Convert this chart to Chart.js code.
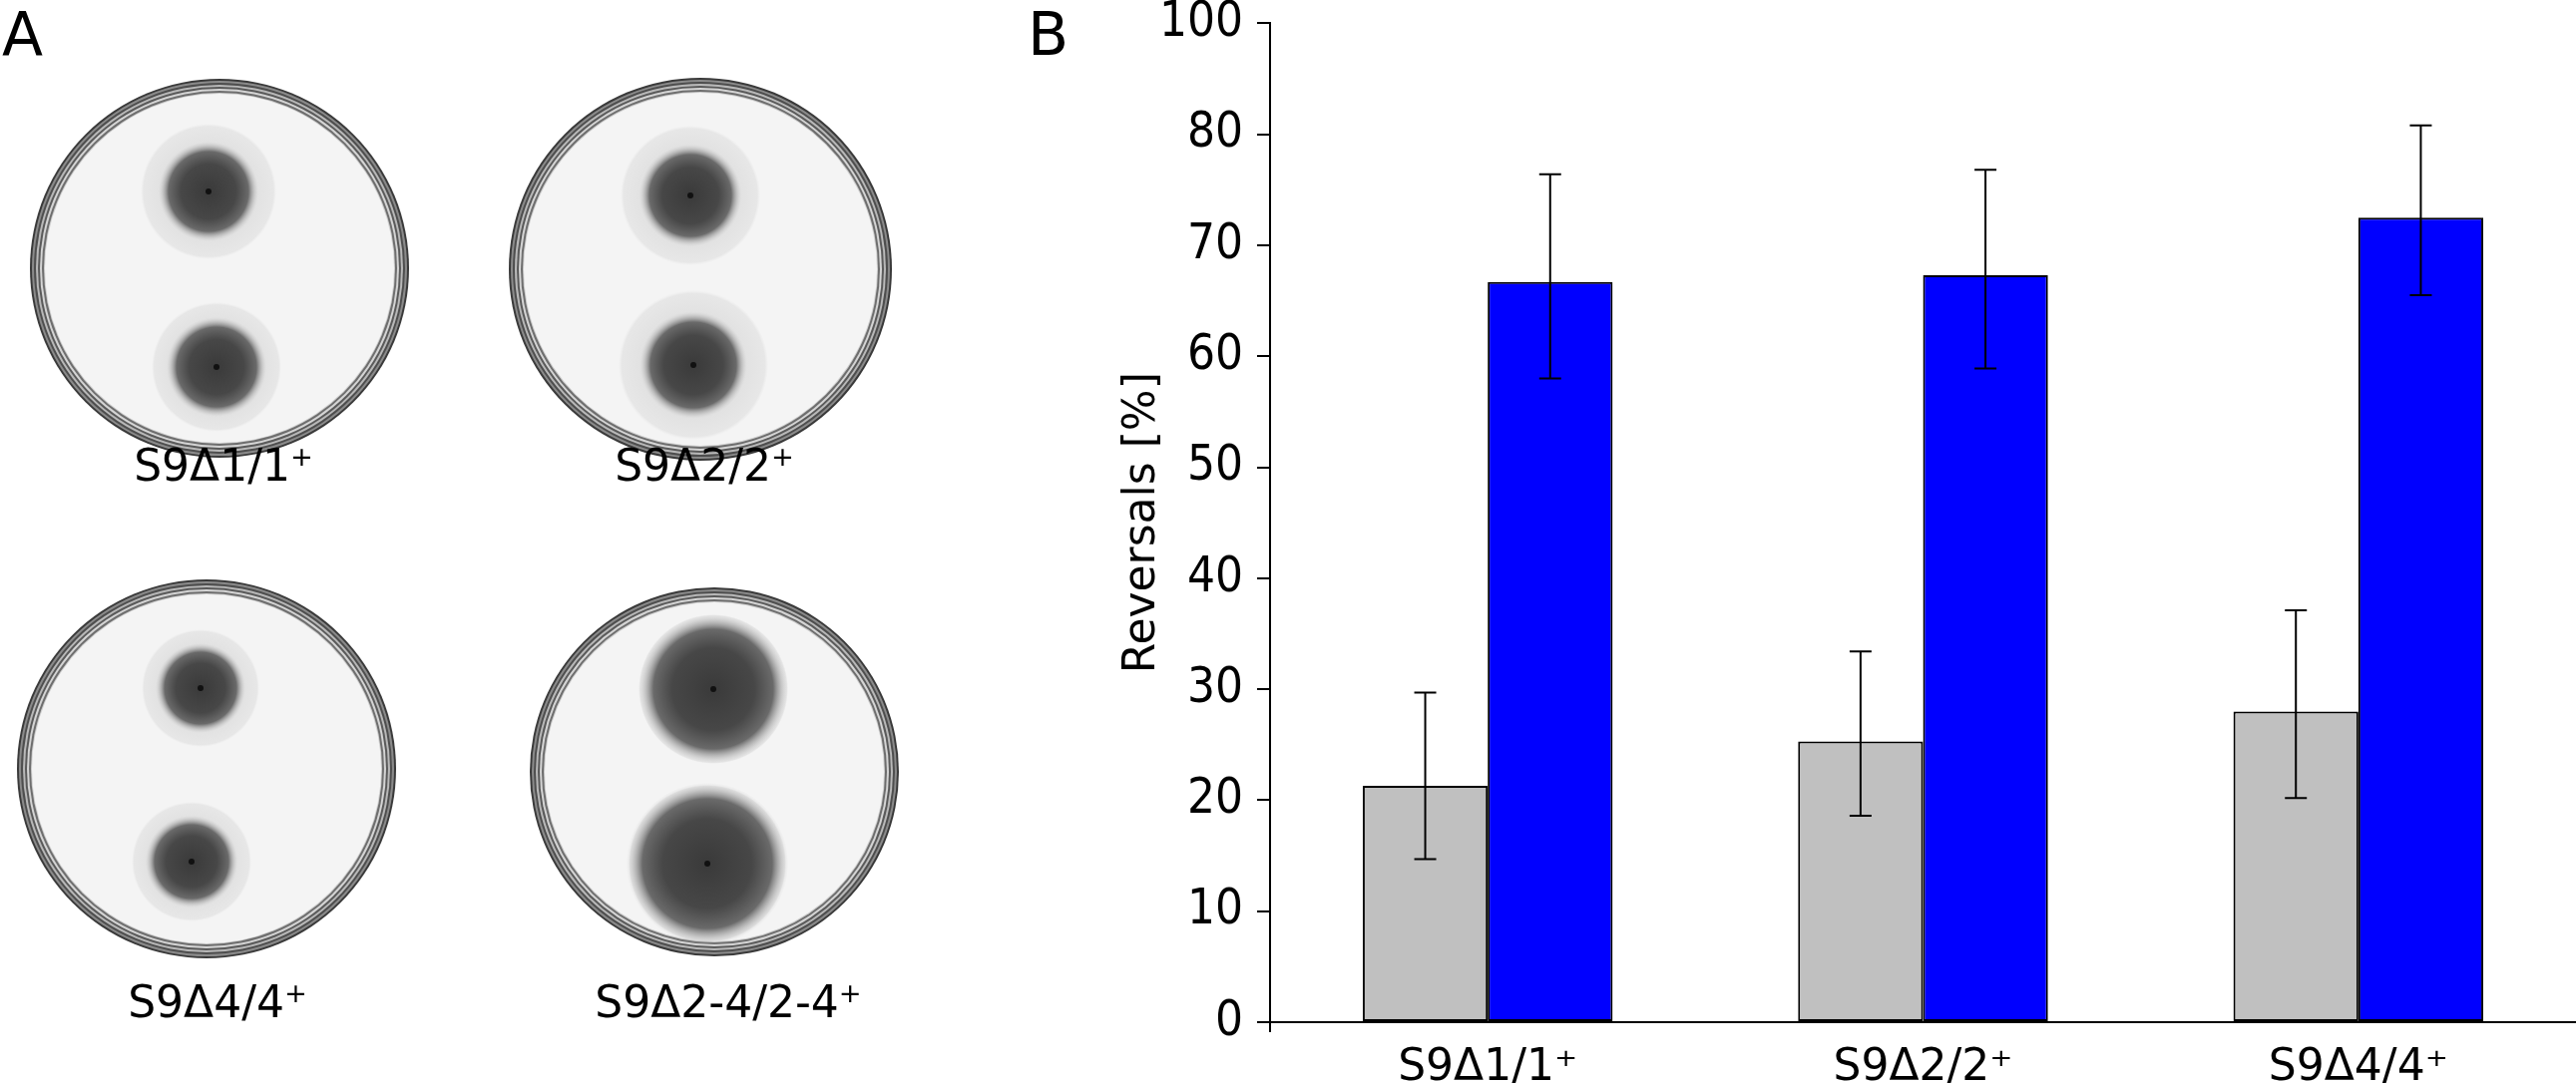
<!DOCTYPE html>
<html>
<head>
<meta charset="utf-8">
<script src="https://cdn.jsdelivr.net/npm/chart.js@4.4.1/dist/chart.umd.min.js"></script>
<style>
  body { margin: 0; background: #fff; width: 2582px; height: 1086px; overflow: hidden; position: relative; font-family: 'DejaVu Sans', sans-serif; }
  #plates { position: absolute; left: 0; top: 0; }
  #chartBox { position: absolute; left: 1100px; top: -20px; width: 1482px; height: 1130px; }
  .panel { position: absolute; font-size: 60px; line-height: 1; color: #000; }
  .plateLabel { position: absolute; font-size: 44px; line-height: 1; color: #000; transform: translate(-50%, -50%); white-space: nowrap; }
  .plateLabel sup { font-size: 0.62em; vertical-align: 0.55em; }
</style>
</head>
<body>
<canvas id="plates" width="1060" height="1086"></canvas>
<div class="panel" style="left:2px; top:4px;">A</div>
<div class="panel" style="left:1030px; top:4px;">B</div>
<div class="plateLabel" style="left:224px; top:466px;">S9Δ1/1<sup>+</sup></div>
<div class="plateLabel" style="left:706px; top:466px;">S9Δ2/2<sup>+</sup></div>
<div class="plateLabel" style="left:218px; top:1004px;">S9Δ4/4<sup>+</sup></div>
<div class="plateLabel" style="left:730px; top:1004px;">S9Δ2-4/2-4<sup>+</sup></div>
<div id="chartBox"><canvas id="chart" width="1482" height="1130"></canvas></div>
<script>
// Datos del panel B
const categorias = ['S9Δ1/1⁺', 'S9Δ2/2⁺', 'S9Δ4/4⁺'];
const grisValores = [21.3, 25.3, 28.0];
const grisBajo = [14.7, 18.6, 20.2];
const grisAlto = [29.7, 33.4, 37.1];
const azulValores = [66.7, 67.3, 72.5];
const azulBajo = [58.0, 58.9, 65.5];
const azulAlto = [76.4, 76.8, 80.8];
// la figura original rotula la marca superior como 100
const etiquetasY = ['0', '10', '20', '30', '40', '50', '60', '70', '80', '100'];

// Panel A: placas (foto aproximada)
function dibujarPlaca(ctx, cx, cy, r, manchas) {
    const anillos = [
        [r, '#3a3a3a'], [r - 2, '#8a8a8a'], [r - 4, '#4e4e4e'], [r - 6, '#b8b8b8'],
        [r - 8, '#5a5a5a'], [r - 10, '#d4d4d4'], [r - 12, '#6e6e6e'], [r - 14, '#cfcfcf'], [r - 15, '#f4f4f4']
    ];
    anillos.forEach(([rr, col]) => {
        ctx.beginPath();
        ctx.arc(cx, cy, rr, 0, Math.PI * 2);
        ctx.fillStyle = col;
        ctx.fill();
    });
    manchas.forEach(m => {
        // halo
        const h = ctx.createRadialGradient(m.x, m.y, m.r, m.x, m.y, m.halo);
        h.addColorStop(0, 'rgba(205,205,205,0.55)');
        h.addColorStop(0.9, 'rgba(215,215,215,0.45)');
        h.addColorStop(1, 'rgba(225,225,225,0)');
        ctx.beginPath();
        ctx.arc(m.x, m.y, m.halo, 0, Math.PI * 2);
        ctx.fillStyle = h;
        ctx.fill();
        const g = ctx.createRadialGradient(m.x, m.y, 0, m.x, m.y, m.r * 1.25);
        g.addColorStop(0, '#3a3a3a');
        g.addColorStop(0.55, '#474747');
        g.addColorStop(0.8, '#6a6a6a');
        g.addColorStop(1, 'rgba(200,200,200,0)');
        ctx.beginPath();
        ctx.arc(m.x, m.y, m.r * 1.25, 0, Math.PI * 2);
        ctx.fillStyle = g;
        ctx.fill();
        ctx.beginPath();
        ctx.arc(m.x, m.y, 3, 0, Math.PI * 2);
        ctx.fillStyle = '#111';
        ctx.fill();
    });
}

const pctx = document.getElementById('plates').getContext('2d');
pctx.fillStyle = '#fff';
pctx.fillRect(0, 0, 1060, 1086);
dibujarPlaca(pctx, 220, 269, 190, [{x: 209, y: 192, r: 40, halo: 68}, {x: 217, y: 368, r: 40, halo: 65}]);
dibujarPlaca(pctx, 702, 270, 192, [{x: 692, y: 196, r: 41, halo: 70}, {x: 695, y: 366, r: 43, halo: 75}]);
dibujarPlaca(pctx, 207, 771, 190, [{x: 201, y: 690, r: 36, halo: 59}, {x: 192, y: 864, r: 37, halo: 60}]);
dibujarPlaca(pctx, 716, 774, 185, [{x: 715, y: 691, r: 60, halo: 75}, {x: 709, y: 866, r: 65, halo: 79}]);

// Barras de error
const barrasError = {
    id: 'barrasError',
    afterDatasetsDraw(chart) {
        const ctx = chart.ctx;
        const y = chart.scales.y;
        ctx.save();
        ctx.strokeStyle = '#000';
        ctx.lineWidth = 2;
        chart.data.datasets.forEach((ds, i) => {
            chart.getDatasetMeta(i).data.forEach((bar, j) => {
                const arriba = y.getPixelForValue(ds.errAlto[j]);
                const abajo = y.getPixelForValue(ds.errBajo[j]);
                ctx.beginPath();
                ctx.moveTo(bar.x, arriba); ctx.lineTo(bar.x, abajo);
                ctx.moveTo(bar.x - 11, arriba); ctx.lineTo(bar.x + 11, arriba);
                ctx.moveTo(bar.x - 11, abajo); ctx.lineTo(bar.x + 11, abajo);
                ctx.stroke();
            });
        });
        ctx.restore();
    }
};

// el eje Y baja un poco por debajo del cero
const ejeExtendido = {
    id: 'ejeExtendido',
    afterDraw(chart) {
        const {ctx, chartArea} = chart;
        ctx.save();
        ctx.strokeStyle = '#000';
        ctx.lineWidth = 2;
        ctx.beginPath();
        ctx.moveTo(chartArea.left, chartArea.bottom);
        ctx.lineTo(chartArea.left, chartArea.bottom + 10);
        ctx.stroke();
        ctx.restore();
    }
};

new Chart(document.getElementById('chart').getContext('2d'), {
    type: 'bar',
    data: {
        labels: categorias,
        datasets: [{
            label: 'Serie 1',
            data: grisValores,
            errBajo: grisBajo,
            errAlto: grisAlto,
            backgroundColor: '#c0c0c0',
            borderColor: '#000',
            borderWidth: 2,
            borderSkipped: false
        }, {
            label: 'Serie 2',
            data: azulValores,
            errBajo: azulBajo,
            errAlto: azulAlto,
            backgroundColor: '#0000ff',
            borderColor: '#000',
            borderWidth: 2,
            borderSkipped: false
        }]
    },
    options: {
        responsive: false,
        animation: false,
        devicePixelRatio: 1,
        layout: { padding: { left: 0, right: 0, top: 41, bottom: 0 } },
        plugins: { legend: { display: false }, tooltip: { enabled: false } },
        datasets: { bar: { barPercentage: 1, categoryPercentage: 0.574 } },
        scales: {
            x: {
                grid: { display: false },
                border: { display: true, color: '#000', width: 2 },
                ticks: {
                    color: '#000',
                    padding: 12,
                    maxRotation: 0,
                    font: { family: "'DejaVu Sans', sans-serif", size: 44 }
                },
                afterFit(scale) { scale.height = 85; }
            },
            y: {
                min: 0,
                max: 90,
                grid: { drawOnChartArea: false, drawTicks: true, tickLength: 13, color: '#000', lineWidth: 2 },
                border: { display: true, color: '#000', width: 2 },
                ticks: {
                    stepSize: 10,
                    color: '#000',
                    padding: 14,
                    font: { family: "'Liberation Sans Narrow', 'DejaVu Sans Condensed', sans-serif", size: 49 },
                    callback: (v, i) => etiquetasY[i]
                },
                title: {
                    display: true,
                    text: 'Reversals [%]',
                    color: '#000',
                    padding: { top: 19, bottom: 0 },
                    font: { family: "'DejaVu Sans', sans-serif", size: 44 }
                },
                afterFit(scale) { scale.width = 173; }
            }
        }
    },
    plugins: [barrasError, ejeExtendido]
});
</script>
</body>
</html>
